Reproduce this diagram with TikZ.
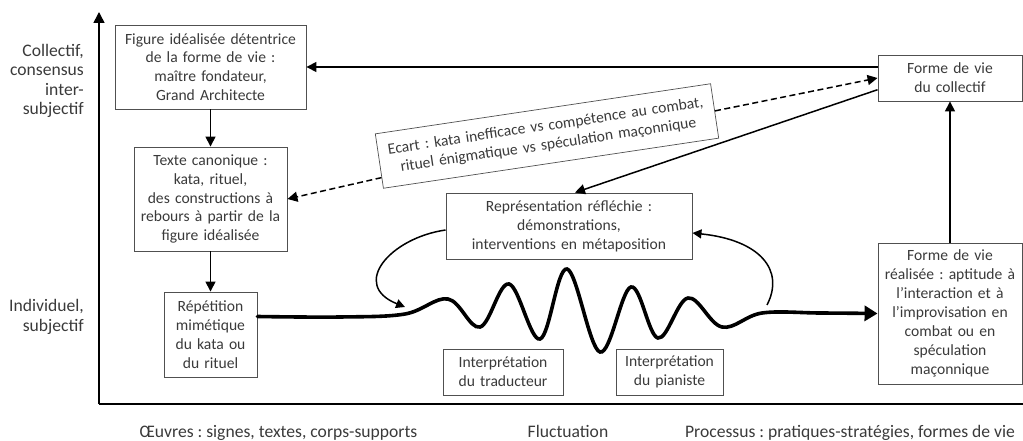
\documentclass[tikz,border=0pt]{standalone}
\usepackage{fontspec}
\setmainfont{Carlito}
\usetikzlibrary{arrows.meta,calc}
\definecolor{txt}{HTML}{3A3A3A}
\definecolor{brd}{HTML}{505050}
\frenchspacing
\begin{document}
\begin{tikzpicture}[x=1pt,y=-1pt,
  box/.style={draw=brd, line width=0.9pt, align=center, text=txt,
    font=\fontsize{15.6}{18.9}\selectfont, inner sep=0pt},
  lbl/.style={text=txt, font=\fontsize{17.6}{19.5}\selectfont, inner sep=0pt},
  arr/.style={line width=1.5pt, -{Triangle[length=10pt,width=10pt]}},
  darr/.style={line width=1.5pt, dash pattern=on 6pt off 3.5pt, -{Triangle[length=10pt,width=10pt]}},
  axis/.style={line width=1.6pt},
  wave/.style={line width=3.6pt, line cap=round, -{Triangle[length=13pt,width=15pt]}}]
\useasboundingbox (0,0) rectangle (1023,441);

% axes
\coordinate (O) at (99,404);
\coordinate (Ytop) at (99,12);
\coordinate (Xend) at (1023,404);
\draw[axis, -{Triangle[length=11pt,width=11pt]}] (O) -- (Ytop);
\draw[axis] (O) -- (Xend);

% axis labels
\node[lbl, anchor=east, align=right] (lcoll) at (84,81) {Collectif,\\consensus\\inter-\\subjectif};
\node[lbl, anchor=east, align=right] (lind) at (84,317) {Individuel,\\subjectif};
\node[lbl, anchor=base] (lo) at (278.5,437.5) {Œuvres : signes, textes, corps-supports};
\node[lbl, anchor=base] (lf) at (568,437.5) {Fluctuation};
\node[lbl, anchor=base] (lp) at (850,437.5) {Processus : pratiques-stratégies, formes de vie};

% boxes
\node[box, minimum width=191pt, minimum height=84pt, text width=186pt] (fig) at (210.5,67)
  {Figure idéalisée détentrice\\de la forme de vie :\\maître fondateur,\\Grand Architecte};
\node[box, minimum width=153pt, minimum height=104pt, text width=150pt] (txt) at (210.5,199)
  {Texte canonique :\\kata, rituel,\\des constructions à\\rebours à partir de la\\figure idéalisée};
\node[box, minimum width=93pt, minimum height=85pt, text width=88pt] (rep) at (210.5,334.5)
  {Répétition\\mimétique\\du kata ou\\du rituel};
\node[box, minimum width=144pt, minimum height=46pt, text width=140pt] (coll) at (950,78)
  {Forme de vie\\du collectif};
\node[box, minimum width=246pt, minimum height=66pt, text width=240pt] (repr) at (569,226)
  {Représentation réfléchie :\\démonstrations,\\interventions en métaposition};
\node[box, minimum width=120pt, minimum height=46pt, text width=116pt] (trad) at (503,372)
  {Interprétation\\du traducteur};
\node[box, minimum width=107pt, minimum height=46pt, text width=103pt] (pian) at (669.5,372)
  {Interprétation\\du pianiste};
\node[box, minimum width=144pt, minimum height=141pt, text width=140pt] (real) at (950,313.5)
  {Forme de vie\\réalisée : aptitude à\\l’interaction et à\\l’improvisation en\\combat ou en\\spéculation\\maçonnique};
\node[box, line width=0.7pt, rotate=8.5, minimum width=339pt, minimum height=55pt, text width=330pt] (ecart) at (547,136)
  {Ecart : kata inefficace vs compétence au combat,\\rituel énigmatique vs spéculation maçonnique};

% connectors
\draw[arr] (fig.south) -- (txt.north);
\draw[arr] (txt.south) -- (rep.north);
\draw[arr] (coll.west |- fig.east) -- (fig.east);
\draw[arr] (real.north) -- (coll.south);
\draw[darr] ($(ecart.south west)!0.2!(ecart.north west)$) -- (txt.east);
\draw[darr] (ecart.east) -- (coll.west);
\draw[arr] ($(coll.west)!0.5!(coll.south west)$) -- ($(repr.north)+(6,0)$);

% wave
\coordinate (w0) at ($(rep.east)+(0,-18)$);
\draw[wave] plot[smooth, tension=0.6] coordinates {(w0) (340,317) (405,314) (448,299) (480,327) (509,284) (540,339) (567,269) (600,352) (631,287) (658,338) (688,298) (722,327) (762,313) (820,313) (real.west)};

% loops
\coordinate (la) at (405,307);
\coordinate (rb) at (767,305);
\draw[line width=1.5pt, -{Triangle[length=9pt,width=9pt]}] ($(repr.west)+(0,4)$) .. controls (390,238) and (350,285) .. (la);
\draw[line width=1.5pt, -{Triangle[length=9pt,width=9pt]}] (rb) .. controls (785,270) and (760,240) .. ($(repr.east)+(0,7)$);
\end{tikzpicture}
\end{document}
